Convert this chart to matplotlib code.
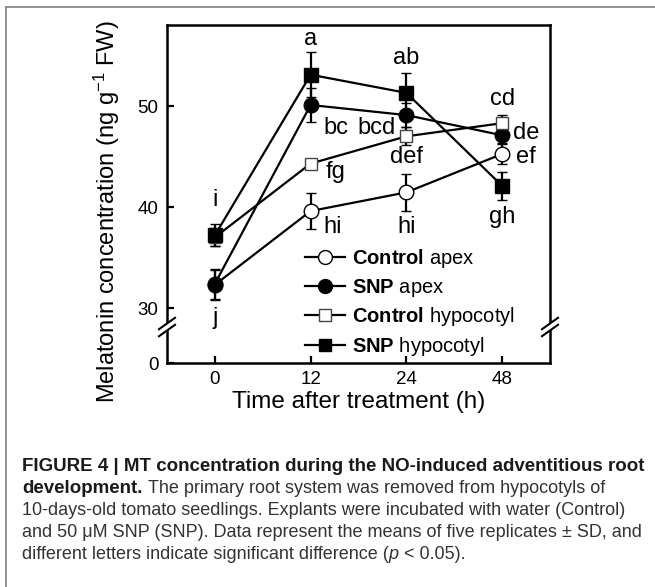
import matplotlib
matplotlib.use('Agg')
import matplotlib.pyplot as plt
from matplotlib.lines import Line2D
from matplotlib.patches import Polygon

plt.rcParams['font.family'] = ['Liberation Sans', 'DejaVu Sans']
plt.rcParams['mathtext.fontset'] = 'custom'
plt.rcParams['mathtext.rm'] = 'Liberation Sans'
plt.rcParams['mathtext.bf'] = 'Liberation Sans:bold'
plt.rcParams['mathtext.it'] = 'Liberation Sans:italic'

# ---------------- data ----------------
time_labels = ['0', '12', '24', '48']
control_apex = [32.3, 39.6, 41.45, 45.25]
control_apex_sd = [1.5, 1.8, 1.8, 1.0]
snp_apex = [32.4, 50.1, 49.1, 47.1]
snp_apex_sd = [1.5, 1.7, 1.2, 0.8]
control_hypo = [37.0, 44.3, 47.0, 48.3]
control_hypo_sd = [0.9, 0.4, 0.9, 0.8]
snp_hypo = [37.2, 53.1, 51.3, 42.1]
snp_hypo_sd = [1.1, 2.2, 2.0, 1.4]

letter_labels = ['a', 'ab', 'bc', 'bcd', 'fg', 'def', 'hi', 'hi', 'i', 'j', 'cd', 'de', 'ef', 'gh']
letter_x = [1.0, 2.0, 1.26, 1.69, 1.26, 2.0, 1.23, 2.0, 0.0, 0.0, 3.0, 3.25, 3.25, 3.0]
letter_y = [56.6, 54.75, 47.8, 47.8, 43.5, 44.95, 38.0, 38.0, 40.7, 29.0, 50.7, 47.35, 44.95, 39.0]

W, H = 655, 587
fig = plt.figure(figsize=(W / 100, H / 100), dpi=100)

def fx(px):
    return px / W

def fy(py):
    return 1 - py / H

ax_l, ax_r = 167, 550
ax_t, brk, ax_b = 25, 327, 363
ax_top = fig.add_axes([fx(ax_l), fy(brk), fx(ax_r) - fx(ax_l), fy(ax_t) - fy(brk)])
ax_bot = fig.add_axes([fx(ax_l), fy(ax_b), fx(ax_r) - fx(ax_l), fy(brk) - fy(ax_b)])
ax_bot.set_zorder(0)
ax_top.set_zorder(1)
ax_top.patch.set_visible(False)
ax_bot.patch.set_visible(False)

x = list(range(len(time_labels)))
series = [
    (control_apex, control_apex_sd, 'o', 'white', 'black', 10.5),
    (snp_apex, snp_apex_sd, 'o', 'black', 'black', 10.5),
    (control_hypo, control_hypo_sd, 's', 'white', '#444444', 9),
    (snp_hypo, snp_hypo_sd, 's', 'black', 'black', 9.5),
]
for vals, sd, m, fc, ec, ms in series:
    ax_top.errorbar(x, vals, yerr=sd, fmt='-', color='black', lw=1.6,
                    marker=m, mfc=fc, mec=ec, ms=ms, mew=1.0,
                    ecolor='black', elinewidth=1.6, capsize=3.5, capthick=1.6, zorder=3)

for lab, lx, ly in zip(letter_labels, letter_x, letter_y):
    ax_top.text(lx, ly, lab, fontsize=17, ha='center', va='center', zorder=5)

ax_top.set_xlim(-0.5, 3.5)
ax_bot.set_xlim(-0.5, 3.5)
ax_top.set_ylim(28.12, 58.02)
ax_bot.set_ylim(0, 1)
ax_top.set_yticks([30, 40, 50])
ax_bot.set_yticks([0])
ax_top.set_xticks([])
ax_bot.set_xticks(x)
ax_bot.set_xticklabels(time_labels)

for ax in (ax_top, ax_bot):
    for s in ax.spines.values():
        s.set_linewidth(1.8)
    ax.tick_params(direction='in', length=5, width=1.6, labelsize=13.5, pad=6)
ax_top.spines['bottom'].set_visible(False)
ax_bot.spines['top'].set_visible(False)
ax_top.tick_params(axis='x', bottom=False)

ax_bot.set_xlabel('Time after treatment (h)', fontsize=17.5, labelpad=2)
fig.text(fx(107), fy(212), r'Melatonin concentration (ng g$^{-1}$ FW)', rotation=90,
         fontsize=17, ha='center', va='center')

# legend
handles = [
    Line2D([], [], color='black', lw=1.6, marker='o', mfc='white', mec='black', ms=10),
    Line2D([], [], color='black', lw=1.6, marker='o', mfc='black', mec='black', ms=10),
    Line2D([], [], color='black', lw=1.6, marker='s', mfc='white', mec='#444444', ms=9),
    Line2D([], [], color='black', lw=1.6, marker='s', mfc='black', mec='black', ms=9),
]
labels = [r'$\mathbf{Control}$ apex', r'$\mathbf{SNP}$ apex',
          r'$\mathbf{Control}$ hypocotyl', r'$\mathbf{SNP}$ hypocotyl']
leg = ax_top.legend(handles, labels, loc='upper left', bbox_to_anchor=(fx(305), fy(247)),
                    bbox_transform=fig.transFigure, frameon=False, fontsize=14.5,
                    handlelength=2.0, handletextpad=0.35, labelspacing=0.33,
                    borderpad=0, borderaxespad=0)
leg.set_zorder(20)

# axis break marks
def break_mark(cx, cy):
    d = 3.5
    poly = [(cx - 7, cy + 5 - d), (cx + 7, cy - 5 - d), (cx + 7, cy - 5 + d), (cx - 7, cy + 5 + d)]
    fig.patches.append(Polygon([(fx(a), fy(b)) for a, b in poly], closed=True,
                               transform=fig.transFigure, fc='white', ec='none', zorder=10))
    for dd in (-d, d):
        fig.lines.append(Line2D([fx(cx - 8), fx(cx + 8)], [fy(cy + 5.7 + dd), fy(cy - 5.7 + dd)],
                                transform=fig.transFigure, color='black', lw=1.5, zorder=11))

break_mark(ax_l, brk)
break_mark(ax_r, brk)

# frame lines
fig.lines.append(Line2D([fx(5.5), 1], [fy(7), fy(7)], transform=fig.transFigure, color='#8a8a8a', lw=1.3))
fig.lines.append(Line2D([fx(5.5), fx(5.5)], [fy(7), 0], transform=fig.transFigure, color='#8a8a8a', lw=1.3))

# caption
cap_font = ['Liberation Sans', 'DejaVu Sans']
bold_size = 13.5
reg_size = 13.0
renderer = fig.canvas.get_renderer()

def text_width(s, size):
    t = fig.text(0, 0, s, fontsize=size, family=cap_font)
    w = t.get_window_extent(renderer).width
    t.remove()
    return w

space_w = text_width('a a', reg_size) - text_width('aa', reg_size)

def draw_line(x0, base_y, segments):
    xx = x0
    for txt, weight, style in segments:
        lead = len(txt) - len(txt.lstrip(' '))
        xx += lead * space_w
        core = txt.strip(' ')
        color = '#1a1a1a' if weight == 'bold' else '#333333'
        size = bold_size if weight == 'bold' else reg_size
        t = fig.text(fx(xx), fy(base_y), core, fontsize=size, fontweight=weight,
                     fontstyle=style, family=cap_font, ha='left', va='baseline', color=color)
        xx += t.get_window_extent(renderer).width
        trail = len(txt) - len(txt.rstrip(' '))
        xx += trail * space_w

cap_x = 22
lines = [
    [('FIGURE 4 | MT concentration during the NO-induced adventitious root', 'bold', 'normal')],
    [('development.', 'bold', 'normal'), (' The primary root system was removed from hypocotyls of', 'normal', 'normal')],
    [('10-days-old tomato seedlings. Explants were incubated with water (Control)', 'normal', 'normal')],
    [('and 50 \u03bcM SNP (SNP). Data represent the means of five replicates \u00b1 SD, and', 'normal', 'normal')],
    [('different letters indicate significant difference (', 'normal', 'normal'), ('p', 'normal', 'italic'),
     (' < 0.05).', 'normal', 'normal')],
]
baselines = [471, 493, 515, 537, 559]
for segs, by in zip(lines, baselines):
    draw_line(cap_x, by, segs)

fig.savefig('out.png', dpi=100)
